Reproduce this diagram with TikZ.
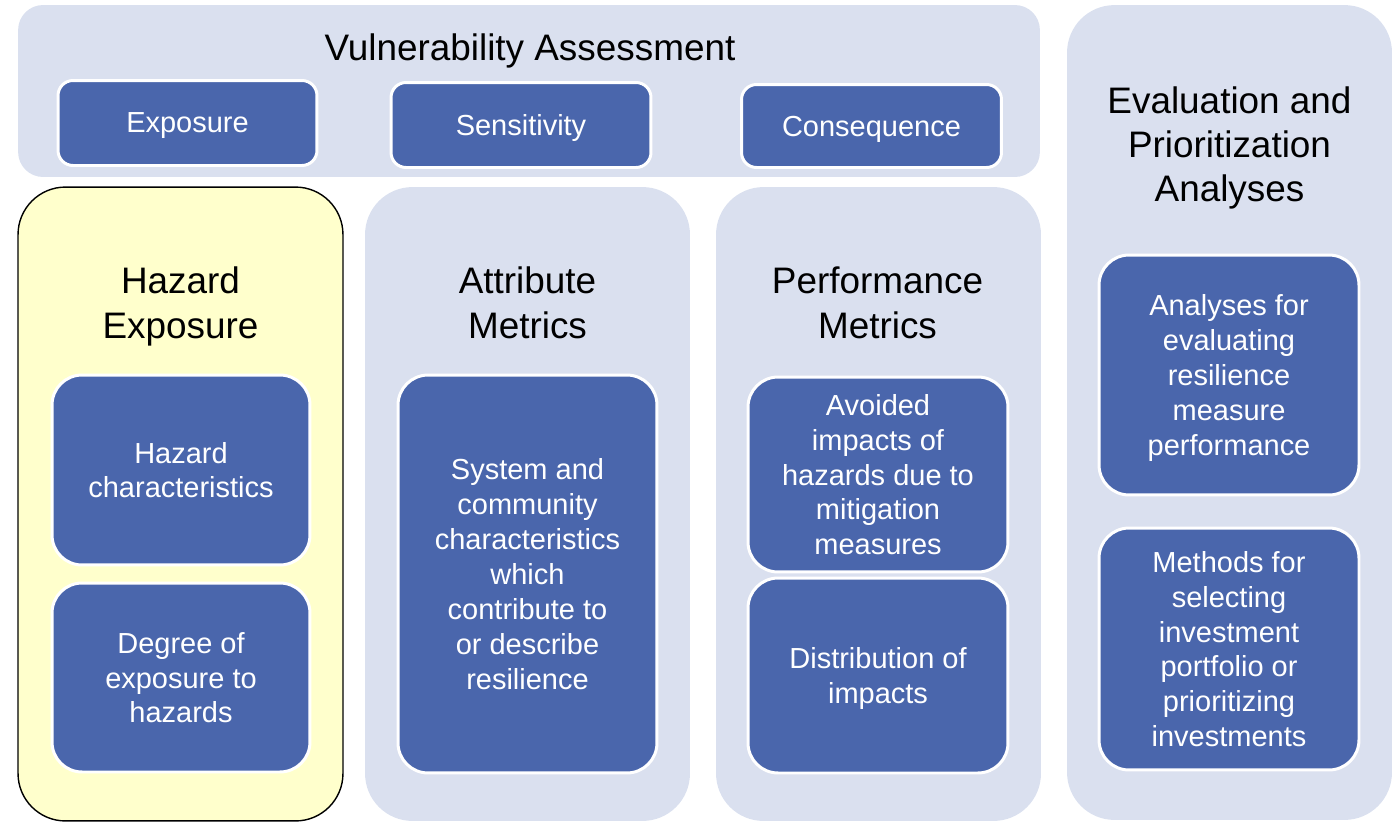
\documentclass[tikz,border=0pt]{standalone}
\usepackage{fontspec}
\setmainfont{Liberation Sans}
\definecolor{panelblue}{RGB}{218,224,239}
\definecolor{itemblue}{RGB}{74,102,172}
\definecolor{hazyellow}{RGB}{255,255,204}
\begin{document}
\begin{tikzpicture}[x=0.02cm, y=-0.02cm,
	panel/.style={fill=panelblue, draw=none, rounded corners=0.95cm},
	item/.style={fill=itemblue, draw=white, line width=1.7pt, rounded corners=0.6cm,
		text=white, align=center, text depth=0pt, font=\fontsize{16.5}{19.9}\selectfont},
	heading/.style={align=center, text depth=0pt, font=\fontsize{21}{25.6}\selectfont}]
	\useasboundingbox (0,0) rectangle (1399,822);
	% panels
	\node[panel, rounded corners=0.5cm, minimum width=20.44cm, minimum height=3.44cm] (vuln) at (529,91) {};
	\node[panel, draw=black, line width=0.8pt, fill=hazyellow, minimum width=6.5cm, minimum height=12.68cm] (hazpanel) at (180.5,504) {};
	\node[panel, minimum width=6.5cm, minimum height=12.68cm] (attpanel) at (527.5,504) {};
	\node[panel, minimum width=6.5cm, minimum height=12.68cm] (perfpanel) at (878.5,504) {};
	\node[panel, minimum width=6.5cm, minimum height=16.3cm] (evalpanel) at (1229.5,412.5) {};
	% headings
	\node[heading] (vulntitle) at (530,47) {Vulnerability Assessment};
	\node[heading] (haztitle) at (180.5,303) {Hazard\\Exposure};
	\node[heading] (atttitle) at (527.5,303) {Attribute\\Metrics};
	\node[heading] (perftitle) at (877.5,303) {Performance\\Metrics};
	\node[heading, font=\fontsize{21}{25}\selectfont] (evaltitle) at (1229.5,144) {Evaluation and\\Prioritization\\Analyses};
	% top row
	\node[item, rounded corners=0.3cm, minimum width=5.18cm, minimum height=1.7cm] (exposure) at (187.5,123) {Exposure};
	\node[item, rounded corners=0.3cm, minimum width=5.2cm, minimum height=1.7cm] (sensitivity) at (521,125) {Sensitivity};
	\node[item, rounded corners=0.3cm, minimum width=5.2cm, minimum height=1.66cm] (consequence) at (871.5,126) {Consequence};
	% column items
	\node[item, minimum width=5.16cm, minimum height=3.8cm] (hazchar) at (181,470) {Hazard\\characteristics};
	\node[item, minimum width=5.16cm, minimum height=3.78cm] (degree) at (181,677.5) {Degree of\\exposure to\\hazards};
	\node[item, minimum width=5.18cm, minimum height=7.96cm] (system) at (527.5,574) {System and\\community\\characteristics\\which\\contribute to\\or describe\\resilience};
	\node[item, minimum width=5.2cm, minimum height=3.9cm] (avoided) at (878,474.5) {Avoided\\impacts of\\hazards due to\\mitigation\\measures};
	\node[item, minimum width=5.2cm, minimum height=3.9cm] (distrib) at (878,675.5) {Distribution of\\impacts};
	\node[item, minimum width=5.2cm, minimum height=4.8cm] (analyses) at (1229,375) {Analyses for\\evaluating\\resilience\\measure\\performance};
	\node[item, minimum width=5.2cm, minimum height=4.84cm] (methods) at (1229,649) {Methods for\\selecting\\investment\\portfolio or\\prioritizing\\investments};
\end{tikzpicture}
\end{document}
